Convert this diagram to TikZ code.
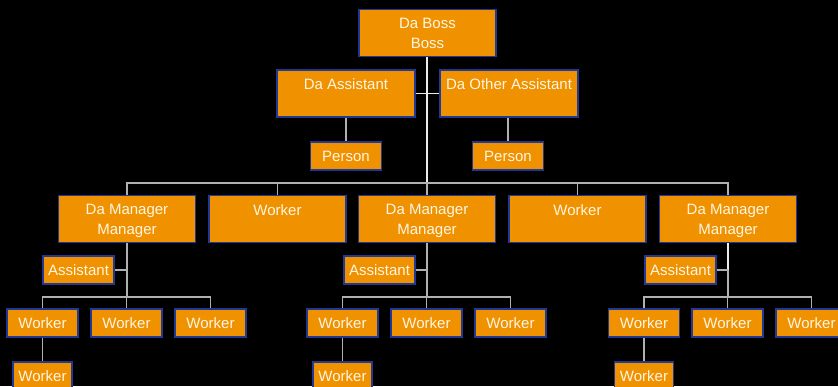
\documentclass[tikz,border=0pt]{standalone}
\usepackage{fontspec}
\setmainfont{Liberation Sans}
\definecolor{orgc}{RGB}{240,145,0}
\definecolor{bordc}{RGB}{32,56,150}
\definecolor{txtc}{RGB}{255,246,228}
\definecolor{linec}{RGB}{176,176,176}
\definecolor{wlinec}{RGB}{235,235,235}
\tikzset{
  box/.style={draw=bordc, fill=orgc, line width=1.2pt, text=txtc, inner sep=0pt,
    font=\fontsize{15}{19.5}\selectfont, align=center},
  bigbox/.style={box, minimum width=137pt, minimum height=47pt},
  smallbox/.style={box, minimum width=71pt, minimum height=28pt},
  subbox/.style={box, minimum width=59pt, minimum height=28pt},
  txt/.style={text=txtc, inner sep=0pt, font=\fontsize{15}{19.5}\selectfont, align=center, anchor=north},
  conn/.style={draw=linec, line width=1.4pt},
  wconn/.style={draw=wlinec, line width=1.4pt}
}
\begin{document}
\begin{tikzpicture}[x=1pt,y=-1pt]
\fill[black] (0,0) rectangle (838,386);
\useasboundingbox (0,0) rectangle (838,386);
\begin{scope}
\clip (0,0) rectangle (838,386);
% top
\node[bigbox] (boss) at (427.5,33) {};
\node[txt] (bosst) at ([yshift=-9.5pt]boss.north) {Da Boss\\Boss};
\node[bigbox, minimum width=138pt] (asa) at (346,93.5) {};
\node[txt] (asat) at ([yshift=-9.5pt]asa.north) {Da Assistant};
\node[bigbox, minimum width=138pt] (asb) at (509,93.5) {};
\node[txt] (asbt) at ([yshift=-9.5pt]asb.north) {Da Other Assistant};
\node[smallbox] (pa) at (346,156) {Person};
\node[smallbox] (pb) at (508,156) {Person};
% level 2
\node[bigbox] (m1) at (127,219) {};
\node[txt] (m1t) at ([yshift=-9.5pt]m1.north) {Da Manager\\Manager};
\node[bigbox] (w1) at (277.5,219) {};
\node[txt] (w1t) at ([yshift=-9.5pt]w1.north) {Worker};
\node[bigbox] (m2) at (427,219) {};
\node[txt] (m2t) at ([yshift=-9.5pt]m2.north) {Da Manager\\Manager};
\node[bigbox] (w2) at (577.5,219) {};
\node[txt] (w2t) at ([yshift=-9.5pt]w2.north) {Worker};
\node[bigbox] (m3) at (728,219) {};
\node[txt] (m3t) at ([yshift=-9.5pt]m3.north) {Da Manager\\Manager};
% assistants
\node[smallbox] (a1) at (78.5,270) {Assistant};
\node[smallbox] (a2) at (379.5,270) {Assistant};
\node[smallbox] (a3) at (680.5,270) {Assistant};
% workers group 1
\node[smallbox] (g1a) at (42.5,323) {Worker};
\node[smallbox] (g1b) at (126.5,323) {Worker};
\node[smallbox] (g1c) at (210.5,323) {Worker};
\node[subbox] (s1) at (42.5,376) {Worker};
% group 2
\node[smallbox] (g2a) at (342.5,323) {Worker};
\node[smallbox] (g2b) at (426.5,323) {Worker};
\node[smallbox] (g2c) at (510.5,323) {Worker};
\node[subbox] (s2) at (342.5,376) {Worker};
% group 3
\node[smallbox] (g3a) at (644,323) {Worker};
\node[smallbox] (g3b) at (727.5,323) {Worker};
\node[smallbox] (g3c) at (811.5,323) {Worker};
\node[subbox] (s3) at (644,376) {Worker};
% bus coordinates
\coordinate (bus) at (427,183);
\coordinate (bus1) at (127,297);
\coordinate (bus2) at (427,297);
\coordinate (bus3) at (728,297);
\end{scope}
% connectors
\draw[wconn] (boss.south -| bus) -- (bus);
\draw[wconn] (asa.east) -- (asb.west);
\draw[conn] (asa.south) -- (pa.north);
\draw[conn] (pb.north |- asb.south) -- (pb.north);
\draw[conn] (m1.north) -- (m1.north |- bus) -- (m3.north |- bus) -- (m3.north);
\draw[conn] (w1.north) -- (w1.north |- bus);
\draw[conn] (m2.north) -- (m2.north |- bus);
\draw[conn] (w2.north) -- (w2.north |- bus);
% group 1
\draw[conn] (m1.south) -- (bus1);
\draw[conn] (a1.east) -- (a1.east -| m1.south);
\draw[conn] (g1a.north) -- (g1a.north |- bus1) -- (g1c.north |- bus1) -- (g1c.north);
\draw[conn] (g1b.north) -- (g1b.north |- bus1);
\draw[conn] (g1a.south) -- (s1.north);
% group 2
\draw[conn] (m2.south) -- (bus2);
\draw[conn] (a2.east) -- (a2.east -| m2.south);
\draw[conn] (g2a.north) -- (g2a.north |- bus2) -- (g2c.north |- bus2) -- (g2c.north);
\draw[conn] (g2b.north) -- (g2b.north |- bus2);
\draw[conn] (g2a.south) -- (s2.north);
% group 3
\draw[wconn, line width=2pt] (m3.south) -- (a3.east -| m3.south);
\draw[conn] (a3.east -| m3.south) -- (bus3);
\draw[conn] (a3.east) -- (a3.east -| m3.south);
\draw[conn] (g3a.north) -- (g3a.north |- bus3) -- (g3c.north |- bus3) -- (g3c.north);
\draw[conn] (g3b.north) -- (g3b.north |- bus3);
\draw[conn] (g3a.south) -- (s3.north);
\end{tikzpicture}
\end{document}
